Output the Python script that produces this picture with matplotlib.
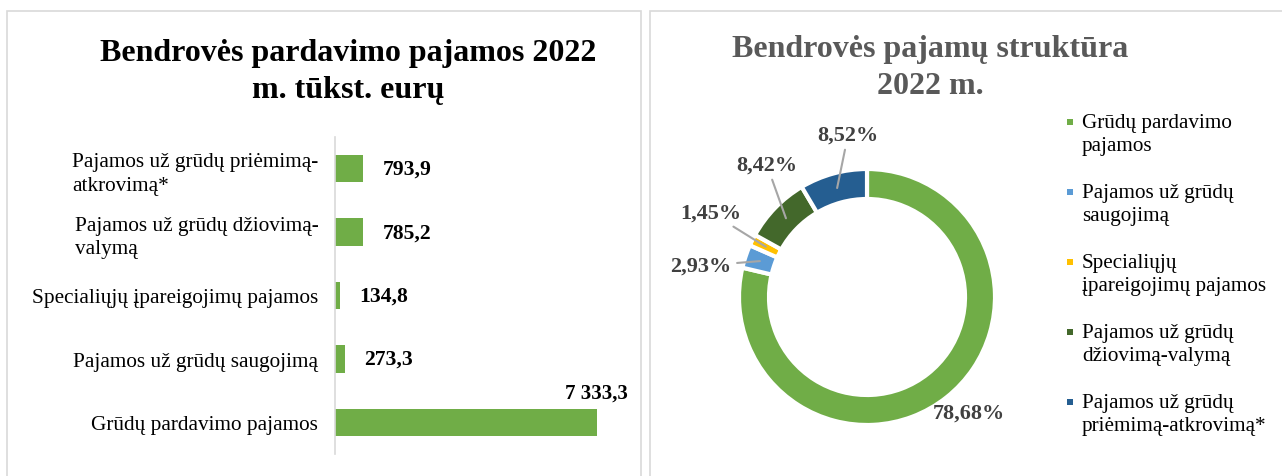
import numpy as np
import matplotlib
matplotlib.use("Agg")
import matplotlib.pyplot as plt
from matplotlib.patches import Rectangle

plt.rcParams['font.family'] = ['Liberation Serif', 'DejaVu Serif']

# ---------------- data ----------------
categories = ["Grūdų pardavimo pajamos",
              "Pajamos už grūdų saugojimą",
              "Specialiųjų įpareigojimų pajamos",
              "Pajamos už grūdų džiovimą-\nvalymą",
              "Pajamos už grūdų priėmimą-\natkrovimą*"]
values = [7333.3, 273.3, 134.8, 785.2, 793.9]
value_labels = ["7 333,3", "273,3", "134,8", "785,2", "793,9"]

legend_labels = ["Grūdų pardavimo\npajamos",
                 "Pajamos už grūdų\nsaugojimą",
                 "Specialiųjų\nįpareigojimų pajamos",
                 "Pajamos už grūdų\ndžiovimą-valymą",
                 "Pajamos už grūdų\npriėmimą-atkrovimą*"]

title_left = "Bendrovės pardavimo pajamos 2022\nm. tūkst. eurų"
title_right = "Bendrovės pajamų struktūra\n2022 m."

# ---------------- style ----------------
W, H = 1282, 477
DPI = 100
bar_color = "#70AD47"
pie_colors = ["#70AD47", "#5B9BD5", "#FFC000", "#43682B", "#255E91"]
# label placement (angle in deg, radius factor relative to outer radius)
pie_label_pos = [(-48.7, 1.20), (169.4, 1.32), (151.6, 1.39), (127.1, 1.30), (96.6, 1.28)]
pie_leader = [False, True, True, True, True]

fig = plt.figure(figsize=(W / DPI, H / DPI), dpi=DPI)

def px_axes(x0, y0, x1, y1):
    return fig.add_axes([x0 / W, 1 - y1 / H, (x1 - x0) / W, (y1 - y0) / H])

# panel borders
for (x0, x1) in [(7, 641), (650, 1290)]:
    fig.patches.append(Rectangle((x0 / W, -0.05), (x1 - x0) / W, 1.05 - 12 / H,
                                 transform=fig.transFigure, fill=False,
                                 edgecolor="#D9D9D9", linewidth=1.2))

# ---------------- bar chart ----------------
ax = px_axes(335, 138, 640, 455)
y = np.arange(len(categories))
ax.barh(y, values, height=0.43, color=bar_color)
ax.set_xlim(0, 8540)
ax.set_ylim(-0.5, len(categories) - 0.5)
ax.set_yticks(y)
ax.set_yticklabels(categories, fontsize=15.3)
for t in ax.get_yticklabels():
    t.set_multialignment('left')
    t.set_linespacing(1.32)
ax.tick_params(axis='y', length=0, pad=12)
ax.set_xticks([])
for s in ["top", "right", "bottom"]:
    ax.spines[s].set_visible(False)
ax.spines["left"].set_color("#D9D9D9")
ax.spines["left"].set_linewidth(1.2)
vmax = max(values)
for yi, v, lab in zip(y, values, value_labels):
    if v == vmax:
        ax.annotate(lab, (v, yi), xytext=(0, 14), textcoords="offset points",
                    ha="center", va="bottom", fontsize=15, fontweight="bold")
    else:
        ax.annotate(lab, (v, yi), xytext=(14, 0), textcoords="offset points",
                    ha="left", va="center", fontsize=15.6, fontweight="bold")

fig.text(348 / W, 1 - 72 / H, title_left, ha="center", va="center",
         fontsize=23, fontweight="bold", color="black", linespacing=1.38)

# ---------------- donut ----------------
cx, cy, half = 867, 298, 170
axp = px_axes(cx - half, cy - half, cx + half, cy + half)
R = 128 / half
ring_w = 30 / half
wedges, _ = axp.pie(values, colors=pie_colors, startangle=90, counterclock=False,
                    radius=R, wedgeprops=dict(width=ring_w, edgecolor="white", linewidth=3))
axp.set_xlim(-1, 1)
axp.set_ylim(-1, 1)
axp.set_aspect("equal")
axp.axis("off")
total = sum(values)
for w, v, (ang, rf), lead in zip(wedges, values, pie_label_pos, pie_leader):
    pct = f"{100 * v / total:.2f}".replace(".", ",") + "%"
    mid = np.deg2rad((w.theta1 + w.theta2) / 2)
    rm = R - ring_w / 2
    target = (rm * np.cos(mid), rm * np.sin(mid))
    lx, ly = R * rf * np.cos(np.deg2rad(ang)), R * rf * np.sin(np.deg2rad(ang))
    if lead:
        axp.annotate(pct, target, xytext=(lx, ly), ha="center", va="center",
                     fontsize=16, fontweight="bold", color="#404040",
                     arrowprops=dict(arrowstyle="-", color="#A6A6A6", lw=1.5,
                                     shrinkA=2, shrinkB=0))
    else:
        axp.text(lx, ly, pct, ha="center", va="center", fontsize=16,
                 fontweight="bold", color="#404040")

fig.text(930 / W, 1 - 68 / H, title_right, ha="center", va="center",
         fontsize=23, fontweight="bold", color="#595959", linespacing=1.4)

# legend drawn manually: marker aligned with first text line
leg_x_marker, leg_x_text, leg_y0, leg_step, msize = 1067, 1082, 123, 70, 6
for i, (w, lab) in enumerate(zip(wedges, legend_labels)):
    yc = leg_y0 + i * leg_step
    fig.patches.append(Rectangle((leg_x_marker / W, 1 - (yc + msize / 2) / H),
                                 msize / W, msize / H, transform=fig.transFigure,
                                 facecolor=w.get_facecolor(), edgecolor="none"))
    fig.text(leg_x_text / W, 1 - (yc - 9) / H, lab, ha="left", va="top",
             fontsize=15.2, color="black", linespacing=1.28)

fig.savefig("out.png", dpi=DPI, facecolor="white")
